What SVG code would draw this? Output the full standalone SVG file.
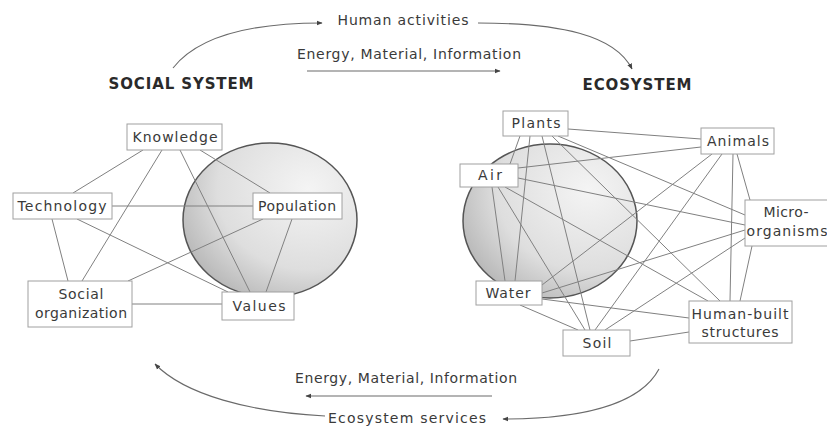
<svg xmlns="http://www.w3.org/2000/svg" width="827" height="428" viewBox="0 0 827 428">
<defs>
<style>
.box{fill:#fff;stroke:#a0a0a0;stroke-width:1}
.lbl{font-family:"DejaVu Sans","Liberation Sans",sans-serif;font-size:14px;fill:#3a3a3a;text-anchor:middle}
.head{font-family:"DejaVu Sans","Liberation Sans",sans-serif;font-size:15px;font-weight:bold;fill:#2a2a2a;text-anchor:middle}
.edge{stroke:#808080;stroke-width:1;fill:none}
.flow{stroke:#6a6a6a;stroke-width:1.1;fill:none}
.sphere{stroke:#555;stroke-width:1.5}
</style>
<radialGradient id="g" cx="0.72" cy="0.3" r="0.95">
<stop offset="0" stop-color="#f4f4f4"/>
<stop offset="0.55" stop-color="#dedede"/>
<stop offset="1" stop-color="#a4a4a4"/>
</radialGradient>
<marker id="ah" viewBox="0 0 10 10" refX="9" refY="5" markerWidth="6" markerHeight="6" orient="auto" markerUnits="userSpaceOnUse">
<path d="M0,1 L10,5 L0,9 Z" fill="#444"/>
</marker>
</defs>
<rect width="827" height="428" fill="#fff"/>

<g id="spheres">
<ellipse class="sphere" cx="270" cy="220" rx="87" ry="77" fill="url(#g)"/>
<ellipse class="sphere" cx="550" cy="221" rx="87" ry="77" fill="url(#g)"/>
</g>

<g id="connectors">
<!-- social system -->
<line class="edge" x1="143" y1="150" x2="73" y2="193"/>
<line class="edge" x1="162" y1="150" x2="82" y2="281"/>
<line class="edge" x1="180" y1="150" x2="250" y2="292"/>
<line class="edge" x1="200" y1="150" x2="270" y2="193"/>
<line class="edge" x1="112" y1="206" x2="253" y2="206"/>
<line class="edge" x1="52" y1="219" x2="68" y2="281"/>
<line class="edge" x1="77" y1="219" x2="228" y2="292"/>
<line class="edge" x1="128" y1="281" x2="263" y2="219"/>
<line class="edge" x1="132" y1="304" x2="222" y2="304"/>
<line class="edge" x1="292" y1="219" x2="266" y2="292"/>
<!-- ecosystem -->
<line class="edge" x1="568" y1="129" x2="701" y2="139"/>
<line class="edge" x1="520" y1="136" x2="510" y2="164"/>
<line class="edge" x1="530" y1="136" x2="515" y2="281"/>
<line class="edge" x1="542" y1="136" x2="590" y2="330"/>
<line class="edge" x1="552" y1="136" x2="720" y2="301"/>
<line class="edge" x1="558" y1="136" x2="745" y2="215"/>
<line class="edge" x1="518" y1="168" x2="701" y2="147"/>
<line class="edge" x1="518" y1="178" x2="745" y2="225"/>
<line class="edge" x1="492" y1="187" x2="505" y2="281"/>
<line class="edge" x1="498" y1="187" x2="585" y2="330"/>
<line class="edge" x1="505" y1="187" x2="708" y2="301"/>
<line class="edge" x1="737" y1="154" x2="750" y2="200"/>
<line class="edge" x1="733" y1="154" x2="730" y2="301"/>
<line class="edge" x1="712" y1="154" x2="542" y2="285"/>
<line class="edge" x1="722" y1="154" x2="595" y2="330"/>
<line class="edge" x1="745" y1="230" x2="542" y2="293"/>
<line class="edge" x1="745" y1="238" x2="605" y2="330"/>
<line class="edge" x1="752" y1="246" x2="740" y2="301"/>
<line class="edge" x1="520" y1="305" x2="578" y2="330"/>
<line class="edge" x1="542" y1="299" x2="689" y2="318"/>
<line class="edge" x1="630" y1="341" x2="689" y2="332"/>
<!-- flows -->
<path class="flow" d="M173,68 C195,40 240,23 322,23" marker-end="url(#ah)"/>
<path class="flow" d="M478,23 C560,23 615,35 632,69" marker-end="url(#ah)"/>
<line class="flow" x1="307" y1="71" x2="500" y2="71" marker-end="url(#ah)"/>
<line class="flow" x1="492" y1="396" x2="306" y2="396" marker-end="url(#ah)"/>
<path class="flow" d="M659,369 C640,405 580,419 503,419" marker-end="url(#ah)"/>
<path class="flow" d="M325,416 C250,412 185,395 155,364" marker-end="url(#ah)"/>
</g>

<g id="labels">
<text class="lbl" x="403" y="25" textLength="131" lengthAdjust="spacing">Human activities</text>
<text class="lbl" x="409" y="59" textLength="224" lengthAdjust="spacing">Energy, Material, Information</text>
<text class="head" x="181" y="89" textLength="145" lengthAdjust="spacing">SOCIAL SYSTEM</text>
<text class="head" x="637" y="90" textLength="109" lengthAdjust="spacing">ECOSYSTEM</text>
<text class="lbl" x="406" y="383" textLength="222" lengthAdjust="spacing">Energy, Material, Information</text>
<text class="lbl" x="407" y="423" textLength="158" lengthAdjust="spacing">Ecosystem services</text>
</g>

<g id="knowledge"><rect class="box" x="127" y="124" width="95" height="26"/><text class="lbl" x="175" y="142" textLength="85" lengthAdjust="spacing">Knowledge</text></g>
<g id="technology"><rect class="box" x="13" y="193" width="99" height="26"/><text class="lbl" x="62" y="211" textLength="89" lengthAdjust="spacing">Technology</text></g>
<g id="population"><rect class="box" x="253" y="193" width="89" height="26"/><text class="lbl" x="297" y="211" textLength="78" lengthAdjust="spacing">Population</text></g>
<g id="social-organization"><rect class="box" x="28" y="281" width="104" height="46"/><text class="lbl" x="81" y="299" textLength="45" lengthAdjust="spacing">Social</text><text class="lbl" x="81" y="318" textLength="92" lengthAdjust="spacing">organization</text></g>
<g id="values"><rect class="box" x="222" y="292" width="72" height="28"/><text class="lbl" x="259" y="311" textLength="53" lengthAdjust="spacing">Values</text></g>

<g id="plants"><rect class="box" x="503" y="111" width="65" height="25"/><text class="lbl" x="536" y="128" textLength="49" lengthAdjust="spacing">Plants</text></g>
<g id="animals"><rect class="box" x="701" y="128" width="73" height="26"/><text class="lbl" x="738" y="146" textLength="62" lengthAdjust="spacing">Animals</text></g>
<g id="air"><rect class="box" x="460" y="164" width="58" height="23"/><text class="lbl" x="490" y="180" textLength="24" lengthAdjust="spacing">Air</text></g>
<g id="micro-organisms"><rect class="box" x="745" y="200" width="86" height="46"/><text class="lbl" x="786" y="217" textLength="45" lengthAdjust="spacing">Micro-</text><text class="lbl" x="787" y="236" textLength="81" lengthAdjust="spacing">organisms</text></g>
<g id="water"><rect class="box" x="476" y="281" width="66" height="24"/><text class="lbl" x="508" y="298" textLength="45" lengthAdjust="spacing">Water</text></g>
<g id="human-built-structures"><rect class="box" x="689" y="301" width="103" height="42"/><text class="lbl" x="740" y="319" textLength="97" lengthAdjust="spacing">Human-built</text><text class="lbl" x="740" y="337" textLength="77" lengthAdjust="spacing">structures</text></g>
<g id="soil"><rect class="box" x="563" y="330" width="67" height="26"/><text class="lbl" x="597" y="348" textLength="29" lengthAdjust="spacing">Soil</text></g>
</svg>
